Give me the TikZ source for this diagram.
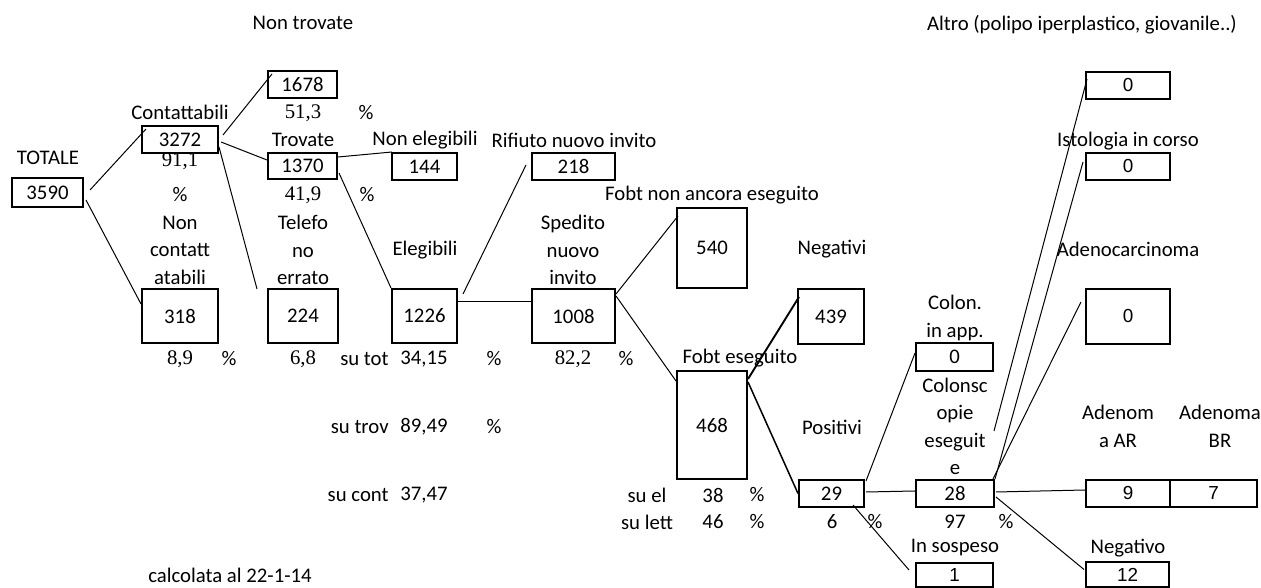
\documentclass[tikz,border=0pt]{standalone}
\usepackage{fontspec}
\setmainfont{Carlito}
\newfontfamily\tnr{Liberation Serif}
\newfontfamily\arl{Liberation Sans}

\begin{document}
\begin{tikzpicture}[x=0.53pt,y=-0.53pt,
  font=\fontsize{11}{14.6}\selectfont,
  cella/.style 2 args={draw,line width=1.06pt,inner sep=0pt,minimum width=#1*0.53pt,minimum height=#2*0.53pt},
  arial/.style={font=\arl\fontsize{10}{12}\selectfont},
  txt/.style={inner sep=0pt,align=center},
  num/.style={inner sep=0pt,font=\tnr\fontsize{11}{13}\selectfont},
  link/.style={line width=0.53pt}]
  \useasboundingbox (0,0) rectangle (1261,588);
  % caselle
  \node[cella={71}{29}] (tot) at (47.5,192.5) {3590};
  \node[cella={76}{27}] (cont) at (180,139.5) {3272};
  \node[cella={69}{27}] (nontrov) at (302.5,84.5) {1678};
  \node[cella={69}{26}] (trov) at (302.5,166) {1370};
  \node[cella={76}{54}] (noncont) at (180,316) {318};
  \node[cella={70}{54}] (tel) at (303,316) {224};
  \node[cella={65}{27}] (nonel) at (424.5,166.5) {144};
  \node[cella={65}{54}] (eleg) at (424.5,316) {1226};
  \node[cella={83}{27}] (rif) at (573.5,166.5) {218};
  \node[cella={83}{54}] (sped) at (573.5,316) {1008};
  \node[cella={70}{80}] (nonese) at (712,248) {540};
  \node[cella={70}{108}] (ese) at (712,425) {468};
  \node[cella={66}{55}] (neg) at (831,316.5) {439};
  \node[cella={65}{27}] (pos) at (831.5,493.5) {29};
  \node[cella={77}{28}] (app) at (954.5,357) {0};
  \node[cella={78}{27}] (colon) at (955,493.5) {28};
  \node[cella={77}{24},arial] (sosp) at (954.5,575) {1};
  \node[cella={83}{25},arial] (negat) at (1127.5,574.5) {12};
  \node[cella={84}{27},arial] (ar) at (1128,493.5) {9};
  \node[cella={87}{27},arial] (br) at (1213.5,493.5) {7};
  \node[cella={84}{27},arial] (altro) at (1128,85.5) {0};
  \node[cella={84}{27},arial] (isto) at (1128,166.5) {0};
  \node[cella={84}{55},arial] (adeno) at (1128,316.5) {0};
  % etichette
  \node[txt] (lnontrov) at (303,23) {Non trovate};
  \node[txt] (laltro) at (1082,25) {Altro (polipo iperplastico, giovanile..)};
  \node[txt] (lcont) at (180,112) {Contattabili};
  \node[txt] (ltot) at (48,158) {TOTALE};
  \node[num] (pcont) at (180,161) {91,1};
  \node[txt] (qcont) at (180,195) {\%};
  \node[txt] (lnoncont) at (180,250) {Non\\contatt\\atabili};
  \node[num] (pnontrov) at (303,113) {51,3};
  \node[txt] (qnontrov) at (366,113) {\%};
  \node[txt] (ltrov) at (303,140) {Trovate};
  \node[num] (ptrov) at (303,195) {41,9};
  \node[txt] (qtrov) at (367,195) {\%};
  \node[txt] (ltel) at (303,250) {Telefo\\no\\errato};
  \node[txt] (lnonel) at (425,140) {Non elegibili};
  \node[txt] (lrif) at (574,140) {Rifiuto nuovo invito};
  \node[txt] (lnonese) at (712,195) {Fobt non ancora eseguito};
  \node[txt] (leleg) at (425,250) {Elegibili};
  \node[txt] (lsped) at (573,250) {Spedito\\nuovo\\invito};
  \node[txt] (lneg) at (832,249) {Negativi};
  \node[txt] (listo) at (1128,141) {Istologia in corso};
  \node[txt] (ladeno) at (1128,249) {Adenocarcinoma};
  \node[txt] (lapp) at (955,318) {Colon.\\in app.};
  \node[num] (pnoncont) at (180,359) {8,9};
  \node[txt] (qnoncont) at (229,359) {\%};
  \node[num] (ptel) at (303,359) {6,8};
  \node[txt,anchor=east] (lsutot) at (389,359) {su tot};
  \node[txt] (psutot) at (424,359) {34,15};
  \node[txt] (qsutot) at (494,359) {\%};
  \node[num] (psped) at (573,359) {82,2};
  \node[txt] (qsped) at (626,359) {\%};
  \node[txt] (lese) at (740,358) {Fobt eseguito};
  \node[txt,anchor=east] (lsutrov) at (389,427) {su trov};
  \node[txt] (psutrov) at (424,427) {89,49};
  \node[txt] (qsutrov) at (494,427) {\%};
  \node[txt] (lpos) at (832,427) {Positivi};
  \node[txt] (lcolon) at (955,426.5) {Colonsc\\opie\\eseguit\\e};
  \node[txt] (lar) at (1118,426.5) {Adenom\\a AR};
  \node[txt] (lbr) at (1220,426.5) {Adenoma\\BR};
  \node[txt,anchor=east] (lsucont) at (389,495) {su cont};
  \node[txt] (psucont) at (424,495) {37,47};
  \node[txt] (lsuel) at (647,495) {su el};
  \node[txt] (psuel) at (713,495) {38};
  \node[txt] (qsuel) at (757,495) {\%};
  \node[txt] (lsulett) at (647,522) {su lett};
  \node[txt] (psulett) at (713,522) {46};
  \node[txt] (qsulett) at (757,522) {\%};
  \node[txt] (ppos) at (832,522) {6};
  \node[txt] (qpos) at (875,522) {\%};
  \node[txt] (pcolon) at (955,522) {97};
  \node[txt] (qcolon) at (1006,522) {\%};
  \node[txt] (lsosp) at (955,548) {In sospeso};
  \node[txt] (lnegat) at (1128,548) {Negativo};
  \node[txt] (ldata) at (230,575) {calcolata al 22-1-14};
  % collegamenti
  \draw[link] ([shift={(6,-2.5)}]tot.east) -- ([shift={(5,4)}]cont.north west);
  \draw[link] ([shift={(2,7.5)}]tot.east) -- ([shift={(0,16)}]noncont.north west);
  \draw[link] ([shift={(4,-4.5)}]cont.east) -- ([shift={(5,4)}]nontrov.north west);
  \draw[link] ([shift={(2,2.5)}]cont.east) -- ([shift={(0,-6)}]trov.west);
  \coordinate (ftel) at ([shift={(-10,1)}]tel.north west);
  \draw[link] ([shift={(0,7.5)}]cont.east) -- (ftel);
  \draw[link] ([shift={(0,-9)}]trov.east) -- ([shift={(1,0)}]nonel.north west);
  \draw[link] ([shift={(1,7)}]trov.east) -- (eleg.north west);
  \draw[link] ([shift={(5,6)}]eleg.north east) -- ([shift={(-5,-1.5)}]rif.west);
  \draw[link] ([shift={(0,14)}]eleg.north east) -- ([shift={(0,14)}]sped.north west);
  \draw[link] ([shift={(0,6)}]sped.north east) -- ([shift={(2,9)}]nonese.north west);
  \draw[link] ([shift={(0,8)}]sped.north east) -- ([shift={(0,11)}]ese.north west);
  \draw[link,line width=1pt] ([shift={(0,9)}]ese.north east) -- ([shift={(2,9)}]neg.north west);
  \draw[link,line width=0.8pt] ([shift={(0,12)}]ese.north east) -- (pos.west);
  \draw[link] ([shift={(1,2)}]pos.north east) -- ([shift={(0,-4)}]app.west);
  \draw[link] ([shift={(1,-1.5)}]pos.east) -- ([shift={(0,-2.5)}]colon.west);
  \draw[link] ([shift={(-12,-3)}]pos.south east) -- ([shift={(-6,-5)}]sosp.west);
  \draw[link] ([shift={(1,-1.5)}]colon.east) -- ([shift={(0,-3.5)}]ar.west);
  \draw[link] ([shift={(1,3.5)}]colon.east) -- ([shift={(-1,-5)}]negat.west);
  \coordinate (fcolon) at ([shift={(-1,-48)}]colon.north east);
  \draw[link] ([shift={(2,8)}]altro.north west) -- (fcolon);
  \draw[link] ([shift={(-2,10)}]isto.north west) -- (colon.north east);
  \draw[link] ([shift={(-4,14)}]adeno.north west) -- ([shift={(-2,0)}]colon.north east);
\end{tikzpicture}
\end{document}
